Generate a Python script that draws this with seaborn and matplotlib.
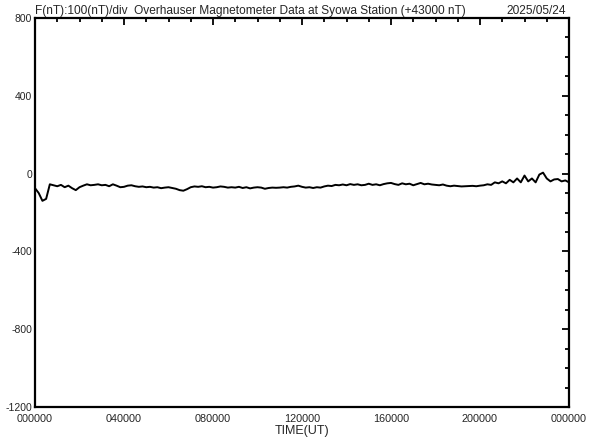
import numpy as np
import pandas as pd
import seaborn as sns
import matplotlib
matplotlib.use("Agg")
import matplotlib.pyplot as plt
from matplotlib.ticker import MultipleLocator

# data: F (nT, offset from 43000) every 10 minutes, 00:00 .. 24:00 UT
F_NT = [
    -75, -100, -140, -130, -55, -60,
    -65, -58, -70, -62, -75, -85,
    -70, -62, -55, -60, -58, -55,
    -60, -58, -65, -55, -62, -70,
    -68, -62, -60, -65, -68, -66,
    -70, -68, -72, -70, -75, -72,
    -70, -74, -78, -85, -88, -80,
    -70, -66, -68, -65, -70, -68,
    -72, -70, -66, -68, -72, -70,
    -72, -68, -74, -70, -76, -72,
    -70, -72, -78, -74, -72, -73,
    -72, -70, -72, -68, -66, -62,
    -68, -72, -70, -74, -70, -72,
    -66, -62, -64, -58, -60, -56,
    -60, -54, -58, -55, -60, -58,
    -52, -58, -55, -60, -54, -50,
    -48, -54, -58, -50, -55, -52,
    -60, -54, -48, -55, -52, -56,
    -58, -60, -56, -62, -65, -62,
    -64, -66, -65, -64, -63, -65,
    -62, -60, -55, -58, -45, -50,
    -40, -50, -32, -45, -25, -45,
    -10, -40, -25, -45, -5, 5,
    -25, -40, -30, -28, -40, -35,
    -45,
]
HOURS = [i / 6 for i in range(len(F_NT))]

X_TICKS = [0, 4, 8, 12, 16, 20, 24]
X_LABELS = ["000000", "040000", "080000", "120000", "160000", "200000", "000000"]
Y_TICKS = [800, 400, 0, -400, -800, -1200]

TITLE = "F(nT):100(nT)/div  Overhauser Magnetometer Data at Syowa Station (+43000 nT)"
DATE = "2025/05/24"

sns.set_style("white")
plt.rcParams["font.family"] = ["Liberation Sans", "DejaVu Sans"]

df = pd.DataFrame({"hour": HOURS, "F": F_NT})

fig = plt.figure(figsize=(5.92, 4.40), dpi=100)
ax = fig.add_axes([35 / 592, 1 - 407 / 440, 534 / 592, 389 / 440])
sns.lineplot(data=df, x="hour", y="F", ax=ax, color="black", linewidth=1.4)

ax.set_xlim(0, 24)
ax.set_ylim(-1200, 800)
ax.set_xticks(X_TICKS)
ax.set_xticklabels(X_LABELS, fontsize=7.8)
ax.set_yticks(Y_TICKS)
ax.set_yticklabels([str(v) for v in Y_TICKS], fontsize=7.5)
ax.xaxis.set_minor_locator(MultipleLocator(1))
ax.yaxis.set_minor_locator(MultipleLocator(100))
ax.tick_params(which="both", direction="in", top=True, right=True, color="black", width=1.3)
ax.tick_params(which="major", length=5, pad=2)
ax.tick_params(which="minor", length=3)
ax.tick_params(axis="x", which="major", pad=5)

for sp in ax.spines.values():
    sp.set_color("black")
    sp.set_linewidth(1.6)

ax.set_xlabel("TIME(UT)", fontsize=9, labelpad=0.5)
ax.set_ylabel("")
ax.text(0, 1.003, TITLE, transform=ax.transAxes, ha="left", va="bottom", fontsize=8.6)
ax.text(0.994, 1.003, DATE, transform=ax.transAxes, ha="right", va="bottom", fontsize=8.6)

fig.savefig("out.png", dpi=100)
